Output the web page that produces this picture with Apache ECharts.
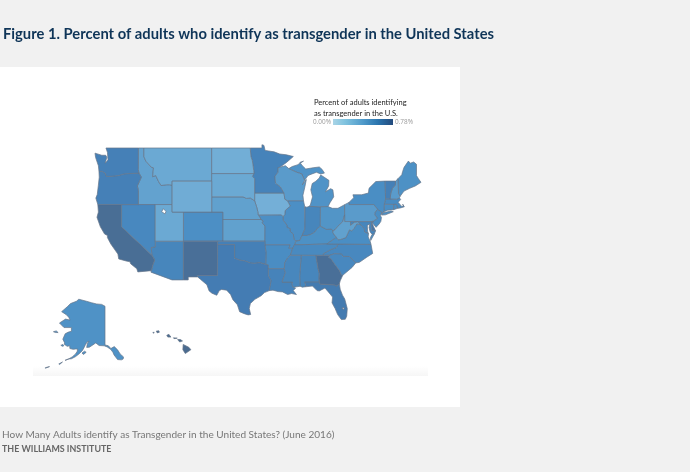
<!DOCTYPE html>
<html>
<head>
<meta charset="utf-8">
<style>
html,body{margin:0;padding:0;background:#f1f1f1;}
#main{width:690px;height:472px;}
</style>
<script src="https://cdn.jsdelivr.net/npm/echarts@6/dist/echarts.min.js"></script>
</head>
<body>
<div id="main"></div>
<script>
var stateNames=["Alabama","Alaska","Arizona","Arkansas","California","Colorado","Connecticut","Delaware","Florida","Georgia","Hawaii","Idaho","Illinois","Indiana","Iowa","Kansas","Kentucky","Louisiana","Maine","Maryland","Massachusetts","Michigan","Minnesota","Mississippi","Missouri","Montana","Nebraska","Nevada","New Hampshire","New Jersey","New Mexico","New York","North Carolina","North Dakota","Ohio","Oklahoma","Oregon","Pennsylvania","Rhode Island","South Carolina","South Dakota","Tennessee","Texas","Utah","Vermont","Virginia","Washington","West Virginia","Wisconsin","Wyoming"];
var stateValues=[0.58,0.49,0.58,0.53,0.76,0.51,0.52,0.70,0.66,0.75,0.78,0.37,0.51,0.58,0.29,0.38,0.50,0.60,0.50,0.58,0.54,0.48,0.60,0.57,0.51,0.33,0.38,0.56,0.42,0.52,0.75,0.52,0.56,0.30,0.47,0.62,0.62,0.42,0.53,0.56,0.33,0.55,0.65,0.33,0.62,0.52,0.62,0.38,0.42,0.31];
var legendTicks=["0.00%","0.78%"];
var titleText="Figure 1. Percent of adults who identify as transgender in the United States";
var legendLines=["Percent of adults identifying","as transgender in the U.S."];
var sourceText="How Many Adults identify as Transgender in the United States? (June 2016)";
var orgText="THE WILLIAMS INSTITUTE";

// state outlines, lon/lat
var stateShapes={
"Washington":[[[-124.7,48.4],[-124.6,47.9],[-124.1,46.9],[-124,46.25],[-123.4,46.2],[-122.9,46],[-122.7,45.6],[-122.2,45.6],[-121.2,45.65],[-120.5,45.7],[-119.6,45.9],[-119,45.93],[-116.92,46],[-117.04,46.42],[-117.03,49],[-122.76,49],[-122.5,48.5],[-122.4,47.6],[-122.9,47.2],[-122.6,47.9],[-122.8,48.15],[-123.5,48.15]]],
"Oregon":[[[-124,46.25],[-123.95,45.5],[-124.1,44.5],[-124.3,43.3],[-124.55,42.84],[-124.2,42],[-120,42],[-117.03,42],[-117.03,43.83],[-117.2,44.4],[-116.85,44.95],[-116.5,45.5],[-116.92,46],[-119,45.93],[-119.6,45.9],[-120.5,45.7],[-121.2,45.65],[-122.2,45.6],[-122.7,45.6],[-122.9,46],[-123.4,46.2]]],
"Idaho":[[[-117.03,42],[-117.03,43.83],[-117.2,44.4],[-116.85,44.95],[-116.5,45.5],[-116.92,46],[-117.04,46.42],[-117.03,49],[-116.05,49],[-116.05,48],[-115.7,47.45],[-114.7,46.7],[-114.35,46.65],[-114.5,45.55],[-113.95,45.7],[-113.45,44.95],[-113,44.45],[-112,44.55],[-111.5,44.55],[-111.05,44.48],[-111.05,42]]],
"Montana":[[[-116.05,49],[-104.05,49],[-104.05,45.94],[-104.05,45],[-111.05,45],[-111.05,44.48],[-111.5,44.55],[-112,44.55],[-113,44.45],[-113.45,44.95],[-113.95,45.7],[-114.5,45.55],[-114.35,46.65],[-114.7,46.7],[-115.7,47.45],[-116.05,48]]],
"Wyoming":[[[-111.05,45],[-104.05,45],[-104.05,43],[-104.05,41],[-111.05,41],[-111.05,42],[-111.05,44.48]]],
"California":[[[-124.2,42],[-120,42],[-120,39],[-114.63,35],[-114.13,34.3],[-114.5,33.5],[-114.72,32.72],[-117.12,32.53],[-117.3,33],[-118.4,33.75],[-118.5,34.03],[-119.2,34.15],[-120.5,34.45],[-120.65,35.15],[-121.9,36.6],[-122.5,37.5],[-122.5,37.8],[-123,38],[-123.75,39],[-124.35,40.3],[-124.1,41]]],
"Nevada":[[[-120,42],[-117.03,42],[-114.04,42],[-114.04,37],[-114.04,36.2],[-114.75,36.1],[-114.63,35],[-120,39]]],
"Utah":[[[-114.04,42],[-111.05,42],[-111.05,41],[-109.05,41],[-109.05,37],[-114.04,37]]],
"Arizona":[[[-114.04,37],[-109.05,37],[-109.05,31.33],[-111.07,31.33],[-114.81,32.5],[-114.72,32.72],[-114.5,33.5],[-114.13,34.3],[-114.63,35],[-114.75,36.1],[-114.04,36.2]]],
"Colorado":[[[-109.05,41],[-104.05,41],[-102.05,41],[-102.05,40],[-102.05,37],[-103,37],[-109.05,37]]],
"New Mexico":[[[-109.05,37],[-103,37],[-103,36.5],[-103.04,32],[-106.62,32],[-106.53,31.78],[-108.2,31.78],[-108.2,31.33],[-109.05,31.33]]],
"Texas":[[[-103,36.5],[-100,36.5],[-100,34.56],[-99.2,34.3],[-98.1,34.13],[-97.2,33.85],[-96.5,33.8],[-95.5,33.9],[-94.48,33.64],[-94.04,33.55],[-94.04,33],[-94.04,32],[-93.55,31.2],[-93.75,30.3],[-93.85,29.7],[-94.7,29.4],[-95.3,28.9],[-96.4,28.35],[-97.2,27.7],[-97.4,26.9],[-97.15,25.96],[-97.6,25.9],[-98.3,26.1],[-99.1,26.4],[-99.5,27.5],[-100.3,28.3],[-100.7,29.1],[-101.4,29.77],[-102.3,29.88],[-102.7,29.7],[-103.15,28.98],[-104,29.3],[-104.5,29.65],[-104.9,30.6],[-106,31.4],[-106.53,31.78],[-106.62,32],[-103.04,32]]],
"Oklahoma":[[[-103,37],[-102.05,37],[-94.62,37],[-94.62,36.5],[-94.43,35.4],[-94.48,33.64],[-95.5,33.9],[-96.5,33.8],[-97.2,33.85],[-98.1,34.13],[-99.2,34.3],[-100,34.56],[-100,36.5],[-103,36.5]]],
"Kansas":[[[-102.05,40],[-95.3,40],[-94.9,39.8],[-95.1,39.55],[-94.6,39.1],[-94.62,37],[-102.05,37]]],
"Nebraska":[[[-104.05,43],[-98.5,43],[-97.9,42.8],[-97.2,42.85],[-96.45,42.49],[-96.1,41.7],[-95.9,41.1],[-95.85,40.7],[-95.77,40.58],[-95.3,40],[-102.05,40],[-102.05,41],[-104.05,41]]],
"South Dakota":[[[-104.05,45.94],[-96.56,45.94],[-96.85,45.6],[-96.45,45.3],[-96.45,43.5],[-96.45,42.49],[-97.2,42.85],[-97.9,42.8],[-98.5,43],[-104.05,43],[-104.05,45]]],
"North Dakota":[[[-104.05,49],[-97.23,49],[-97.1,48],[-96.85,47.5],[-96.6,46.3],[-96.56,45.94],[-104.05,45.94]]],
"Minnesota":[[[-97.23,49],[-95.15,49],[-95.15,49.38],[-94.8,49.3],[-94.6,48.72],[-93,48.55],[-92,48.3],[-90.8,48.2],[-89.6,48],[-90.8,47.3],[-92,46.7],[-92.3,46.66],[-92.3,46.1],[-92.85,45.6],[-92.75,44.75],[-91.9,44.3],[-91.25,43.5],[-96.45,43.5],[-96.45,45.3],[-96.85,45.6],[-96.56,45.94],[-96.6,46.3],[-96.85,47.5],[-97.1,48]]],
"Iowa":[[[-96.45,43.5],[-91.25,43.5],[-91.1,42.7],[-90.65,42.5],[-90.15,41.8],[-91.05,41.2],[-91.1,40.7],[-91.42,40.38],[-91.7,40.6],[-95.77,40.58],[-95.85,40.7],[-95.9,41.1],[-96.1,41.7],[-96.45,42.49]]],
"Missouri":[[[-95.77,40.58],[-91.7,40.6],[-91.42,40.38],[-91.4,39.9],[-90.75,39.25],[-90.7,38.9],[-90.15,38.75],[-90.2,38.4],[-89.6,38],[-89.5,37.3],[-89.15,37],[-89.4,36.5],[-89.7,36],[-90.37,36],[-90.15,36.5],[-94.62,36.5],[-94.62,37],[-94.6,39.1],[-95.1,39.55],[-94.9,39.8],[-95.3,40]]],
"Arkansas":[[[-94.62,36.5],[-90.15,36.5],[-90.37,36],[-89.7,36],[-90.1,35],[-90.6,34.6],[-91.1,33.9],[-91.2,33],[-94.04,33],[-94.04,33.55],[-94.48,33.64],[-94.43,35.4]]],
"Louisiana":[[[-94.04,33],[-91.2,33],[-91,32.4],[-91.6,31],[-89.73,31],[-89.85,30.65],[-89.6,30.2],[-89.2,30.1],[-89.6,29.7],[-89.05,29.1],[-89.9,29.25],[-90.6,29.1],[-91.5,29.5],[-92.3,29.55],[-93.2,29.77],[-93.85,29.7],[-93.75,30.3],[-93.55,31.2],[-94.04,32]]],
"Mississippi":[[[-90.1,35],[-88.2,35],[-88.47,31.9],[-88.4,30.37],[-89.6,30.2],[-89.85,30.65],[-89.73,31],[-91.6,31],[-91,32.4],[-91.2,33],[-91.1,33.9],[-90.6,34.6]]],
"Tennessee":[[[-90.1,35],[-89.7,36],[-89.4,36.5],[-88.05,36.5],[-83.67,36.6],[-81.68,36.59],[-82,36.1],[-83.1,35.75],[-84.3,35.2],[-84.32,34.99],[-85.6,34.98],[-88.2,35]]],
"Alabama":[[[-88.2,35],[-85.6,34.98],[-85.18,32.87],[-85,32.3],[-85.05,31.55],[-85,31],[-87.6,31],[-87.4,30.65],[-87.52,30.28],[-88,30.23],[-88.4,30.37],[-88.47,31.9]]],
"Georgia":[[[-85.6,34.98],[-84.32,34.99],[-83.1,35],[-83.35,34.7],[-82.9,34.45],[-82.2,33.6],[-81.4,32.7],[-81.1,32.1],[-80.85,32.03],[-81.3,31.2],[-81.45,30.72],[-82.05,30.36],[-82.2,30.57],[-84.86,30.7],[-85,31],[-85.05,31.55],[-85,32.3],[-85.18,32.87]]],
"Florida":[[[-87.6,31],[-85,31],[-84.86,30.7],[-82.2,30.57],[-82.05,30.36],[-81.45,30.72],[-81.3,29.9],[-80.9,29],[-80.5,28.4],[-80.05,26.9],[-80.15,25.7],[-80.4,25.2],[-81.1,25.15],[-81.75,25.95],[-82.2,26.9],[-82.75,27.8],[-82.65,28.7],[-83.4,29.5],[-84,30.1],[-85,29.65],[-85.4,29.7],[-86.2,30.4],[-87.52,30.28],[-87.4,30.65]]],
"South Carolina":[[[-83.1,35],[-82.3,35.2],[-81.05,35.15],[-80.8,34.82],[-79.67,34.8],[-78.55,33.86],[-79.2,33.2],[-79.9,32.7],[-80.85,32.03],[-81.1,32.1],[-81.4,32.7],[-82.2,33.6],[-82.9,34.45],[-83.35,34.7]]],
"North Carolina":[[[-84.32,34.99],[-83.1,35],[-82.3,35.2],[-81.05,35.15],[-80.8,34.82],[-79.67,34.8],[-78.55,33.86],[-77.9,33.95],[-76.6,34.7],[-75.55,35.25],[-75.85,36.55],[-81.68,36.59],[-82,36.1],[-83.1,35.75],[-84.3,35.2]]],
"Virginia":[[[-83.67,36.6],[-81.68,36.59],[-75.85,36.55],[-76,37],[-76.35,37.6],[-76.3,38.05],[-77,38.3],[-77.05,38.8],[-77.5,39.1],[-77.72,39.32],[-78.35,39.4],[-78.87,38.77],[-79.3,38.42],[-79.65,38.6],[-80.3,37.5],[-81.22,37.24],[-81.68,37.2],[-81.97,37.54]],[[-75.65,37.95],[-75.25,38.03],[-75.9,37.1],[-75.95,37.5]]],
"West Virginia":[[[-80.52,40.64],[-80.85,39.7],[-81.7,39.1],[-82.2,38.6],[-82.6,38.42],[-82.6,38.17],[-81.97,37.54],[-81.68,37.2],[-81.22,37.24],[-80.3,37.5],[-79.65,38.6],[-79.3,38.42],[-78.87,38.77],[-78.35,39.4],[-77.72,39.32],[-78.2,39.68],[-78.8,39.6],[-79.48,39.2],[-79.48,39.72],[-80.52,39.72]]],
"Kentucky":[[[-89.15,37],[-89.4,36.5],[-88.05,36.5],[-83.67,36.6],[-81.97,37.54],[-82.6,38.17],[-82.6,38.42],[-82.85,38.7],[-83.7,38.65],[-84.82,39.1],[-85.4,38.73],[-85.8,38.27],[-86.5,37.95],[-87.1,37.8],[-88.05,37.8],[-88.45,37.1]]],
"Ohio":[[[-84.8,41.7],[-83.45,41.73],[-82.7,41.5],[-81.7,41.5],[-80.52,41.98],[-80.52,40.64],[-80.85,39.7],[-81.7,39.1],[-82.2,38.6],[-82.6,38.42],[-82.85,38.7],[-83.7,38.65],[-84.82,39.1]]],
"Indiana":[[[-87.53,41.71],[-87.2,41.65],[-86.8,41.76],[-84.8,41.7],[-84.82,39.1],[-85.4,38.73],[-85.8,38.27],[-86.5,37.95],[-87.1,37.8],[-88.05,37.8],[-87.55,38.7],[-87.53,39.35]]],
"Illinois":[[[-90.65,42.5],[-87.8,42.5],[-87.6,41.8],[-87.53,41.71],[-87.53,39.35],[-87.55,38.7],[-88.05,37.8],[-88.45,37.1],[-89.15,37],[-89.5,37.3],[-89.6,38],[-90.2,38.4],[-90.15,38.75],[-90.7,38.9],[-90.75,39.25],[-91.4,39.9],[-91.42,40.38],[-91.1,40.7],[-91.05,41.2],[-90.15,41.8]]],
"Wisconsin":[[[-92.3,46.66],[-91,46.9],[-90.4,46.55],[-89.1,46.13],[-88.1,45.9],[-87.6,45.1],[-88,44.55],[-87.3,45.2],[-87.55,44.3],[-87.9,43.2],[-87.8,42.5],[-90.65,42.5],[-91.1,42.7],[-91.25,43.5],[-91.9,44.3],[-92.75,44.75],[-92.85,45.6],[-92.3,46.1]]],
"Michigan":[[[-86.8,41.76],[-84.8,41.7],[-83.45,41.73],[-83.1,42.25],[-82.45,43],[-82.6,43.9],[-83,44.05],[-83.9,43.65],[-83.35,44.4],[-83.3,45.1],[-84.75,45.78],[-85,45.4],[-85.6,45],[-86.25,44.7],[-86.5,43.9],[-86.2,43],[-86.6,41.9]],[[-90.4,46.55],[-89.1,46.13],[-88.1,45.9],[-87.6,45.1],[-87,45.7],[-86.3,45.9],[-85.5,46.1],[-84.75,45.9],[-84.1,46],[-84.5,46.45],[-85,46.75],[-86.1,46.65],[-87.4,46.5],[-88,46.9],[-88.45,47.3],[-87.8,47.45],[-88.9,47],[-89.8,46.8]]],
"Pennsylvania":[[[-80.52,41.98],[-79.76,42.27],[-79.76,42],[-75.35,42],[-74.7,41.36],[-75.13,40.98],[-75.2,40.65],[-74.72,40.15],[-75.4,39.8],[-75.8,39.72],[-79.48,39.72],[-80.52,39.72],[-80.52,40.64]]],
"New York":[[[-79.76,42.27],[-78.9,42.9],[-79.05,43.27],[-77.5,43.27],[-76.3,43.5],[-76.2,44.1],[-75,44.95],[-73.35,45.01],[-73.3,43.6],[-73.27,42.75],[-73.5,42.05],[-73.55,41.3],[-73.65,41],[-74,40.7],[-73.9,41],[-74.7,41.36],[-75.35,42],[-79.76,42]],[[-74,40.6],[-73.7,40.9],[-72.3,41.15],[-71.9,41.05],[-73.3,40.63]]],
"Vermont":[[[-73.35,45.01],[-71.5,45.01],[-71.55,44.5],[-72.05,44.1],[-72.35,43.5],[-72.46,42.73],[-73.27,42.75],[-73.3,43.6]]],
"New Hampshire":[[[-71.5,45.01],[-71.08,45.3],[-70.98,43.4],[-70.7,43.07],[-70.82,42.87],[-71.3,42.7],[-72.46,42.73],[-72.35,43.5],[-72.05,44.1],[-71.55,44.5]]],
"Maine":[[[-71.08,45.3],[-70.4,45.8],[-70.25,46.2],[-70,46.7],[-69.23,47.46],[-68.9,47.2],[-68.3,47.35],[-67.8,47.07],[-67.8,45.7],[-67.45,45.3],[-67,44.85],[-68,44.4],[-69,44.1],[-70,43.75],[-70.7,43.07],[-70.98,43.4]]],
"Massachusetts":[[[-73.5,42.05],[-73.27,42.75],[-72.46,42.73],[-71.3,42.7],[-70.82,42.87],[-70.6,42.65],[-71.05,42.3],[-70.65,41.95],[-70.5,41.78],[-70.05,41.8],[-70.25,42.05],[-69.95,41.7],[-70.65,41.55],[-71.12,41.5],[-71.38,42.02],[-71.8,42.02]]],
"Connecticut":[[[-73.5,42.05],[-71.8,42.02],[-71.85,41.32],[-72.9,41.25],[-73.65,41],[-73.55,41.3]]],
"Rhode Island":[[[-71.8,42.02],[-71.38,42.02],[-71.12,41.5],[-71.85,41.32]]],
"New Jersey":[[[-74.7,41.36],[-73.9,41],[-74.2,40.5],[-74,40.3],[-74.1,39.75],[-74.4,39.4],[-74.95,38.93],[-75.55,39.5],[-75.4,39.8],[-74.72,40.15],[-75.2,40.65],[-75.13,40.98]]],
"Delaware":[[[-75.8,39.72],[-75.4,39.8],[-75.6,39.45],[-75.4,39.05],[-75.05,38.45],[-75.7,38.46]]],
"Maryland":[[[-79.48,39.72],[-75.8,39.72],[-75.7,38.46],[-75.05,38.45],[-75.25,38.03],[-75.65,37.95],[-76,38.3],[-76.2,38.9],[-76.05,39.4],[-76.5,39.2],[-76.45,38.4],[-76.3,38.05],[-77,38.3],[-77.05,38.8],[-77.5,39.1],[-77.72,39.32],[-78.2,39.68],[-78.8,39.6],[-79.48,39.2]]],
"Alaska":[[[-141,69.65],[-143,70.1],[-146,70.2],[-149,70.5],[-152,70.85],[-156.6,71.35],[-158,70.85],[-161.5,70.3],[-163.5,69.5],[-166.8,68.35],[-164,67.6],[-162.6,67],[-161.8,66.3],[-164.5,66.55],[-168.1,65.6],[-165.4,64.5],[-163,64.5],[-161,64.5],[-161,63.6],[-162.8,63.4],[-164.7,63],[-166.1,61.7],[-165,60.8],[-165.3,60.5],[-163.5,59.8],[-162,60],[-161.9,59],[-160,58.7],[-158.5,58.8],[-157.3,58.8],[-157.5,58],[-158.5,57],[-160.5,55.9],[-163,55],[-164.8,54.6],[-163,55.1],[-161,55.2],[-158.5,56],[-156.5,57],[-154.5,58.2],[-153.5,59.3],[-152.6,60.4],[-151.7,61],[-150.5,61.2],[-151.5,60.7],[-151.9,59.4],[-150.3,59.5],[-148.5,60.2],[-146.5,60.8],[-144.5,60.1],[-141.5,60],[-139.7,59.6],[-137.5,58.6],[-136.3,57.6],[-135.6,56.6],[-133.5,54.9],[-131.2,54.8],[-130.2,55.1],[-130,55.9],[-132,57],[-133.5,58.5],[-135.5,59.7],[-137.5,59],[-139,60],[-141,60.3]],[[-154.7,57.3],[-153.2,58],[-152.2,57.6],[-153.8,56.8]],[[-171.7,63.5],[-170,63.7],[-168.9,63.3],[-170.5,63.3]],[[-167.3,60.2],[-166,60.4],[-165.5,60],[-166.3,59.8]],[[-168.5,53.3],[-166.3,54],[-166.2,53.7],[-168,53.1]],[[-176.5,51.9],[-174,52.3],[-174,52],[-176.5,51.7]]],
"Hawaii":[[[-155.9,20.25],[-155.1,19.85],[-154.8,19.5],[-155.6,18.95],[-155.95,19.5]],[[-156.7,20.95],[-156.3,20.95],[-156,20.75],[-156.4,20.6]],[[-158.25,21.55],[-157.95,21.7],[-157.65,21.3],[-158.1,21.3]],[[-157.3,21.2],[-156.75,21.15],[-157.2,21.08]],[[-159.75,22.15],[-159.4,22.22],[-159.3,22],[-159.6,21.9]],[[-160.25,21.95],[-160.05,22],[-160.1,21.85]]]
};
// lakes cut out of the first polygon
var stateHoles={
"Utah":[[-112.9,41.05],[-112.3,40.75],[-112.15,41.1],[-112.6,41.45]],
"Florida":[[-81,27],[-80.65,26.75],[-80.6,27.05]]
};

function merc(lat){
    return Math.log(Math.tan(Math.PI/4+lat*Math.PI/360))*180/Math.PI;
}
var usProjection={
    project:function(p){
        var lon=p[0],lat=p[1];
        if(lat>50){
            var ay=lat>=60.3?299+(71.4-lat)*4.14:345+(60.3-lat)*2.7;
            return [105+(lon+141)*1.68,ay];
        }
        if(lon<-150){
            return [186+(lon+155.5)*7,349+(19.6-lat)*7];
        }
        return [95+(lon+124.7)*5.65,148+(merc(49)-merc(lat))*5.65];
    },
    unproject:function(c){
        var m=merc(49)-(c[1]-148)/5.65;
        return [(c[0]-95)/5.65-124.7,(Math.atan(Math.exp(m*Math.PI/180))*360/Math.PI)-90];
    }
};

var features=[];
var x0=1e9,x1=-1e9,y0=1e9,y1=-1e9;
stateNames.forEach(function(name){
    var polys=stateShapes[name].map(function(ring,i){
        ring.forEach(function(p){
            var c=usProjection.project(p);
            x0=Math.min(x0,c[0]);x1=Math.max(x1,c[0]);
            y0=Math.min(y0,c[1]);y1=Math.max(y1,c[1]);
        });
        return i==0&&stateHoles[name]?[ring,stateHoles[name]]:[ring];
    });
    features.push({type:"Feature",properties:{name:name},geometry:{type:"MultiPolygon",coordinates:polys}});
});
echarts.registerMap("USA",{type:"FeatureCollection",features:features});

var mapData=[];
for(let i=0;i<stateNames.length;i++){
    mapData.push({name:stateNames[i],value:stateValues[i]});
}

var chart=echarts.init(document.getElementById("main"));
var option={
    backgroundColor:"#f1f1f1",
    animation:false,
    tooltip:{show:false},
    visualMap:{
        show:false,
        min:0,
        max:0.78,
        inRange:{color:["#a3d2e6","#8cc3e0","#7ab4da","#5f9fcd","#4a8ec4","#447cb3","#4a6b90"]}
    },
    graphic:[
        {type:"rect",z:-2,shape:{x:0,y:67,width:460,height:340},style:{fill:"#ffffff"}},
        {type:"rect",z:-1,shape:{x:33,y:366,width:395,height:10},
            style:{fill:new echarts.graphic.LinearGradient(0,0,0,1,[{offset:0,color:"#ffffff"},{offset:1,color:"#f6f6f6"}])}},
        {type:"text",x:3,y:27,style:{text:titleText,font:"bold 14.75px Lato",fill:"#0f3558"}},
        {type:"text",x:2,y:430,style:{text:sourceText,font:"10.05px Lato",fill:"#777777"}},
        {type:"text",x:2,y:445,style:{text:orgText,font:"bold 8.9px Lato",fill:"#666666"}},
        {type:"text",x:314,y:99,style:{text:legendLines[0],font:"7.5px Lato",fill:"#222222"}},
        {type:"text",x:314,y:110,style:{text:legendLines[1],font:"7.5px Lato",fill:"#222222"}},
        {type:"text",x:313,y:119,style:{text:legendTicks[0],font:"6.4px 'Open Sans'",fill:"#999999"}},
        {type:"text",x:395,y:119,style:{text:legendTicks[1],font:"6.4px 'Open Sans'",fill:"#999999"}},
        {type:"rect",shape:{x:333,y:119,width:60,height:6},
            style:{fill:new echarts.graphic.LinearGradient(0,0,1,0,[
                {offset:0,color:"#a9d4e6"},
                {offset:0.2,color:"#80c3df"},
                {offset:0.5,color:"#4f9aca"},
                {offset:0.75,color:"#2a74ae"},
                {offset:1,color:"#234a7c"}
            ])}}
    ],
    series:[{
        type:"map",
        map:"USA",
        projection:usProjection,
        roam:false,
        silent:true,
        left:x0,
        top:y0,
        width:x1-x0,
        height:y1-y0,
        label:{show:false},
        itemStyle:{borderColor:"#66758a",borderWidth:0.7},
        data:mapData
    }]
};
chart.setOption(option);
</script>
</body>
</html>
